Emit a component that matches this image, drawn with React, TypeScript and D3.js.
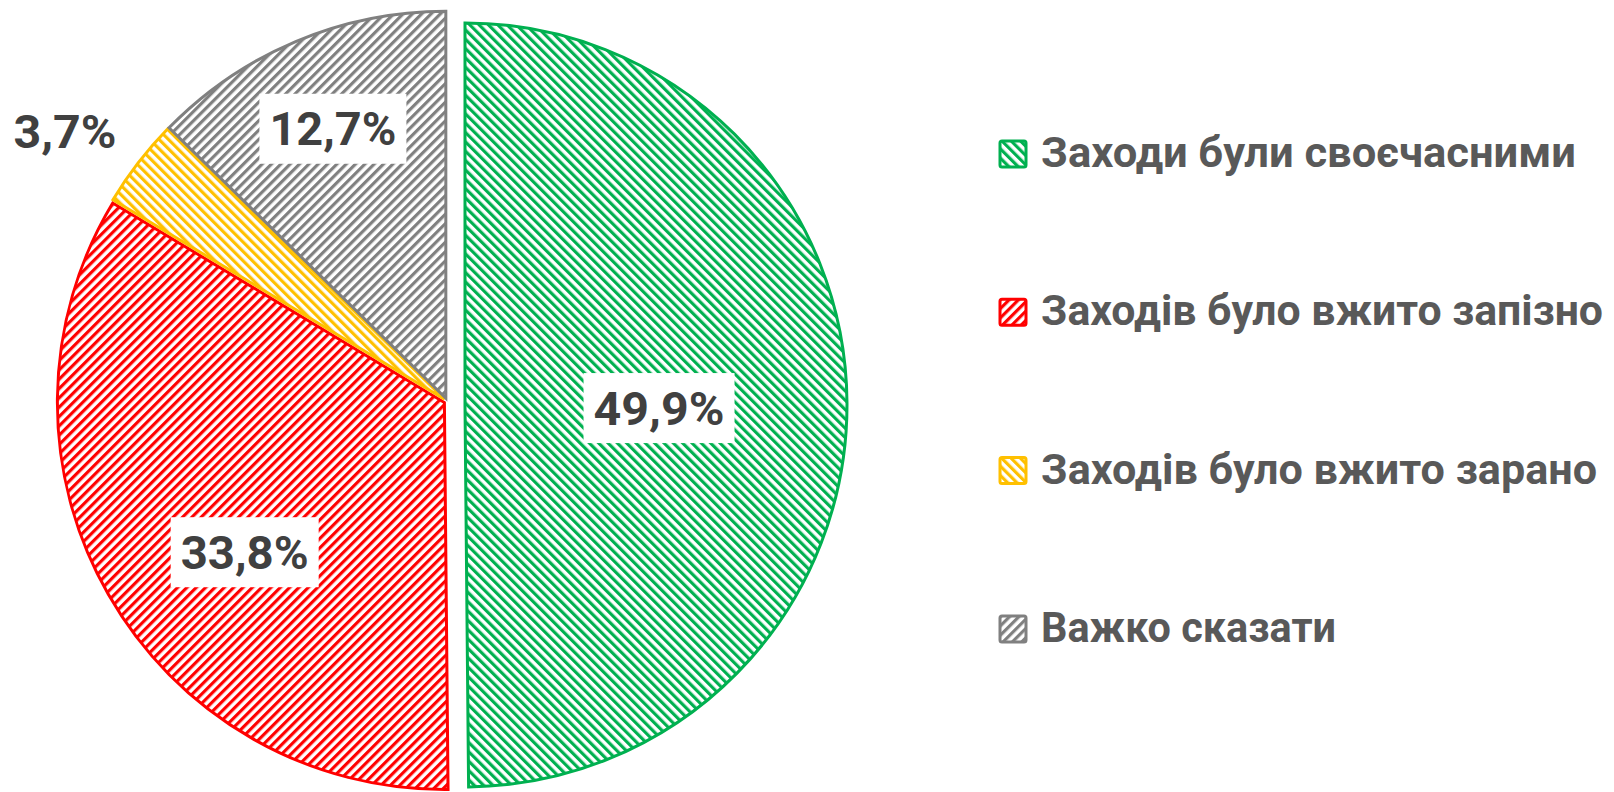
import React from "react";
import * as d3 from "d3";

const categories = [
  "Заходи були своєчасними",
  "Заходів було вжито запізно",
  "Заходів було вжито зарано",
  "Важко сказати",
];
const values = [49.9, 33.8, 3.7, 12.7];
const valueLabels = ["49,9%", "33,8%", "3,7%", "12,7%"];
const colors = ["#00B050", "#FF0000", "#FFC000", "#808080"];
const stripeDir = ["down", "up", "down", "up"];

// layout
const W = 1614;
const H = 792;
const CX = 447;
const CY = 401;
const R = 387;
const explode = [
  { d: 18, dy: 4, dr: -5 },
  { d: 3, dy: 0, dr: 0 },
  { d: 3, dy: 0, dr: 0 },
  { d: 3, dy: 0, dr: 0 },
];
const labelPlace = [
  { r: 0.508, da: 1.2, box: true },
  { r: 0.645, da: -7.1, box: true },
  { r: 1.2, da: -2.5, box: false },
  { r: 0.755, da: 0.1, box: true },
];
const labelWidths = [131, 128, 103, 127];
const legendWidths = [535, 562, 556, 295];
const LEG_X = 999;
const LEG_BASE0 = 167;
const LEG_STEP = 158.3;
const PAT = 6.6;

const FONT = "Roboto, 'Open Sans', 'Noto Sans', sans-serif";

export default function App() {
  const pie = d3
    .pie<number>()
    .sort(null)
    .value((d) => d)
    .startAngle(0)
    .endAngle(2 * Math.PI);
  const arcs = pie(values);

  const toRad = Math.PI / 180;

  return (
    <div style={{ position: "absolute", left: 0, top: 0, width: W, height: H, background: "#fff" }}>
      <svg width={W} height={H} viewBox={`0 0 ${W} ${H}`} style={{ display: "block" }}>
        <defs>
          {colors.map((c, i) => (
            <pattern
              key={i}
              id={`pat${i}`}
              patternUnits="userSpaceOnUse"
              width={PAT}
              height={PAT * 4}
              patternTransform={`rotate(${stripeDir[i] === "up" ? 45 : -45})`}
            >
              <rect width={PAT} height={PAT * 4} fill="#fff" />
              <rect width={PAT * 0.48} height={PAT * 4} fill={c} />
            </pattern>
          ))}
        </defs>

        {arcs.map((a, i) => {
          const mid = (a.startAngle + a.endAngle) / 2;
          const e = explode[i];
          const cx = CX + e.d * Math.sin(mid);
          const cy = CY - e.d * Math.cos(mid) + e.dy;
          const r = R + e.dr;
          const arcGen = d3.arc<d3.PieArcDatum<number>>().innerRadius(0).outerRadius(r);
          return (
            <g key={i} transform={`translate(${cx},${cy})`}>
              <path
                d={arcGen(a) || ""}
                fill={`url(#pat${i})`}
                stroke={colors[i]}
                strokeWidth={3}
                strokeLinejoin="miter"
              />
            </g>
          );
        })}

        {arcs.map((a, i) => {
          const mid = (a.startAngle + a.endAngle) / 2;
          const e = explode[i];
          const cx = CX + e.d * Math.sin(mid);
          const cy = CY - e.d * Math.cos(mid) + e.dy;
          const r = R + e.dr;
          const lp = labelPlace[i];
          const ang = mid + lp.da * toRad;
          const lx = cx + lp.r * r * Math.sin(ang);
          const ly = cy - lp.r * r * Math.cos(ang);
          const tw = labelWidths[i];
          return (
            <g key={`l${i}`}>
              {lp.box && (
                <rect x={lx - tw / 2 - 10} y={ly - 35} width={tw + 20} height={70} fill="#fff" />
              )}
              <text
                x={lx - tw / 2}
                y={ly + 16.5}
                fontFamily={FONT}
                fontWeight={700}
                fontSize={46}
                fill="#404040"
                textLength={tw}
                lengthAdjust="spacingAndGlyphs"
              >
                {valueLabels[i]}
              </text>
            </g>
          );
        })}

        {categories.map((c, i) => {
          const base = LEG_BASE0 + i * LEG_STEP;
          return (
            <g key={`g${i}`}>
              <rect
                x={LEG_X + 1}
                y={base - 26}
                width={26}
                height={26}
                rx={2}
                fill={`url(#pat${i})`}
                stroke={colors[i]}
                strokeWidth={3}
              />
              <text
                x={1041}
                y={base}
                fontFamily={FONT}
                fontWeight={700}
                fontSize={42.5}
                fill="#595959"
                textLength={legendWidths[i]}
                lengthAdjust="spacingAndGlyphs"
              >
                {c}
              </text>
            </g>
          );
        })}
      </svg>
    </div>
  );
}
